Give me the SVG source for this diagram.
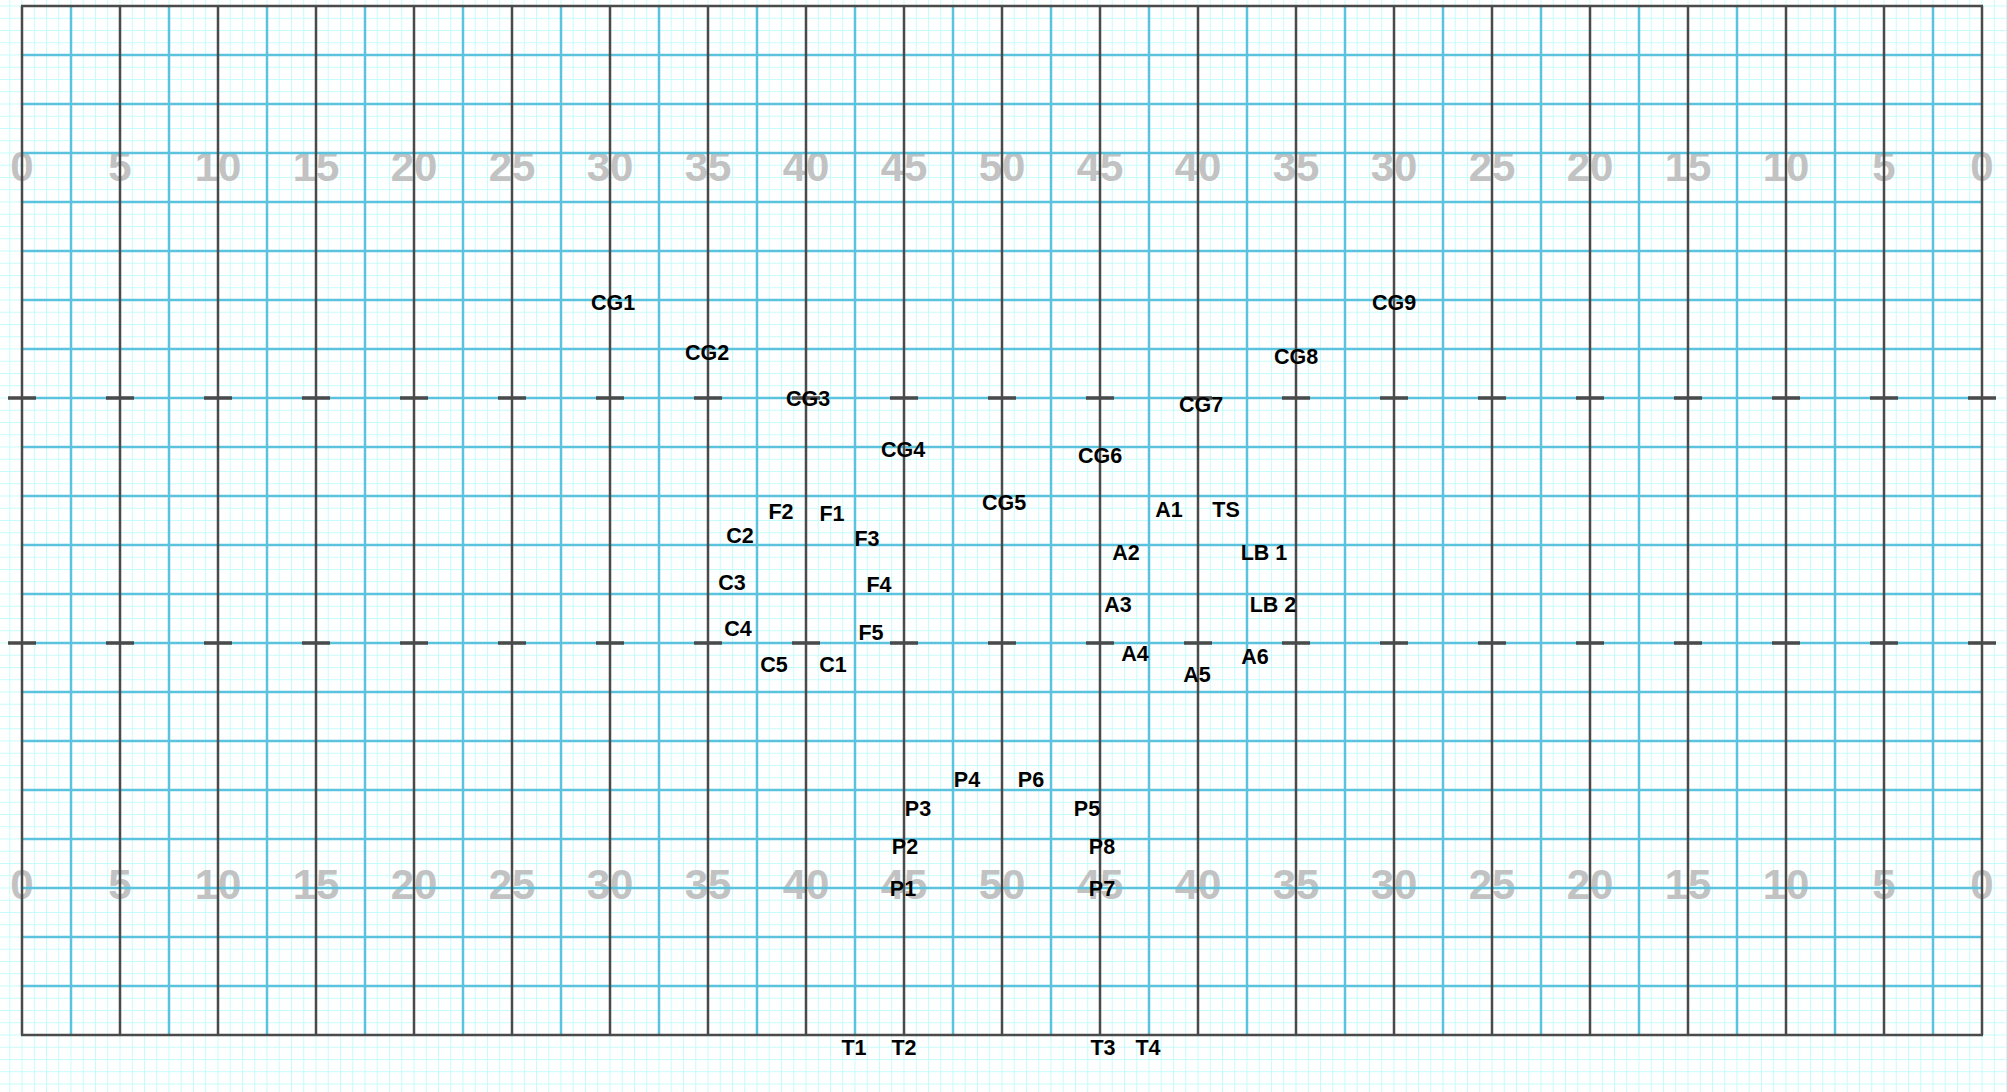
<svg xmlns="http://www.w3.org/2000/svg" width="2007" height="1092" viewBox="0 0 2007 1092">
<style>
.num{font-family:"Liberation Sans",Arial,sans-serif;font-weight:bold;font-size:42px;fill:#c2c2c2;text-anchor:middle}
.lbl{font-family:"Liberation Sans",Arial,sans-serif;font-weight:bold;font-size:21.5px;fill:#000;text-anchor:middle}
.blue{stroke:#5bc3dd;stroke-width:2.5;fill:none}
.dark{stroke:#4a4a4a;stroke-width:2.5;fill:none}
.hash{stroke:#4a4a4a;stroke-width:3.5;fill:none}
</style>
<defs>
<pattern id="minor" patternUnits="userSpaceOnUse" x="21.5" y="5.5" width="12.25" height="12.25">
<rect x="0" y="0" width="1" height="12.25" fill="#c6fbfb"/>
<rect x="0" y="0" width="12.25" height="1" fill="#c6fbfb"/>
</pattern>
</defs>
<rect width="2007" height="1092" fill="#ffffff"/>
<rect width="2007" height="1092" fill="url(#minor)"/>
<g id="yard-numbers-top">
<text class="num" x="22" y="181">0</text><text class="num" x="120" y="181">5</text><text class="num" x="218" y="181">10</text><text class="num" x="316" y="181">15</text><text class="num" x="414" y="181">20</text><text class="num" x="512" y="181">25</text><text class="num" x="610" y="181">30</text><text class="num" x="708" y="181">35</text><text class="num" x="806" y="181">40</text><text class="num" x="904" y="181">45</text><text class="num" x="1002" y="181">50</text><text class="num" x="1100" y="181">45</text><text class="num" x="1198" y="181">40</text><text class="num" x="1296" y="181">35</text><text class="num" x="1394" y="181">30</text><text class="num" x="1492" y="181">25</text><text class="num" x="1590" y="181">20</text><text class="num" x="1688" y="181">15</text><text class="num" x="1786" y="181">10</text><text class="num" x="1884" y="181">5</text><text class="num" x="1982" y="181">0</text>
</g>
<g id="yard-numbers-bottom">
<text class="num" x="22" y="899">0</text><text class="num" x="120" y="899">5</text><text class="num" x="218" y="899">10</text><text class="num" x="316" y="899">15</text><text class="num" x="414" y="899">20</text><text class="num" x="512" y="899">25</text><text class="num" x="610" y="899">30</text><text class="num" x="708" y="899">35</text><text class="num" x="806" y="899">40</text><text class="num" x="904" y="899">45</text><text class="num" x="1002" y="899">50</text><text class="num" x="1100" y="899">45</text><text class="num" x="1198" y="899">40</text><text class="num" x="1296" y="899">35</text><text class="num" x="1394" y="899">30</text><text class="num" x="1492" y="899">25</text><text class="num" x="1590" y="899">20</text><text class="num" x="1688" y="899">15</text><text class="num" x="1786" y="899">10</text><text class="num" x="1884" y="899">5</text><text class="num" x="1982" y="899">0</text>
</g>
<g id="grid">
<path class="blue" d="M22 55H1982M22 104H1982M22 153H1982M22 202H1982M22 251H1982M22 300H1982M22 349H1982M22 398H1982M22 447H1982M22 496H1982M22 545H1982M22 594H1982M22 643H1982M22 692H1982M22 741H1982M22 790H1982M22 839H1982M22 888H1982M22 937H1982M22 986H1982"/>
<path class="blue" d="M71 6V1035M169 6V1035M267 6V1035M365 6V1035M463 6V1035M561 6V1035M659 6V1035M757 6V1035M855 6V1035M953 6V1035M1051 6V1035M1149 6V1035M1247 6V1035M1345 6V1035M1443 6V1035M1541 6V1035M1639 6V1035M1737 6V1035M1835 6V1035M1933 6V1035"/>
<path class="dark" d="M22 6V1035M120 6V1035M218 6V1035M316 6V1035M414 6V1035M512 6V1035M610 6V1035M708 6V1035M806 6V1035M904 6V1035M1002 6V1035M1100 6V1035M1198 6V1035M1296 6V1035M1394 6V1035M1492 6V1035M1590 6V1035M1688 6V1035M1786 6V1035M1884 6V1035M1982 6V1035"/>
<path class="dark" d="M21 6H1983M21 1035H1983"/>
<path class="hash" d="M8 398H36M106 398H134M204 398H232M302 398H330M400 398H428M498 398H526M596 398H624M694 398H722M792 398H820M890 398H918M988 398H1016M1086 398H1114M1184 398H1212M1282 398H1310M1380 398H1408M1478 398H1506M1576 398H1604M1674 398H1702M1772 398H1800M1870 398H1898M1968 398H1996"/>
<path class="hash" d="M8 643H36M106 643H134M204 643H232M302 643H330M400 643H428M498 643H526M596 643H624M694 643H722M792 643H820M890 643H918M988 643H1016M1086 643H1114M1184 643H1212M1282 643H1310M1380 643H1408M1478 643H1506M1576 643H1604M1674 643H1702M1772 643H1800M1870 643H1898M1968 643H1996"/>
</g>
<g id="CG1"><text class="lbl" x="613" y="310">CG1</text></g>
<g id="CG2"><text class="lbl" x="707" y="360">CG2</text></g>
<g id="CG3"><text class="lbl" x="808" y="406">CG3</text></g>
<g id="CG4"><text class="lbl" x="903" y="457">CG4</text></g>
<g id="CG5"><text class="lbl" x="1004" y="510">CG5</text></g>
<g id="CG6"><text class="lbl" x="1100" y="463">CG6</text></g>
<g id="CG7"><text class="lbl" x="1201" y="412">CG7</text></g>
<g id="CG8"><text class="lbl" x="1296" y="364">CG8</text></g>
<g id="CG9"><text class="lbl" x="1394" y="310">CG9</text></g>
<g id="F1"><text class="lbl" x="832" y="521">F1</text></g>
<g id="F2"><text class="lbl" x="781" y="519">F2</text></g>
<g id="F3"><text class="lbl" x="867" y="546">F3</text></g>
<g id="F4"><text class="lbl" x="879" y="592">F4</text></g>
<g id="F5"><text class="lbl" x="871" y="640">F5</text></g>
<g id="C1"><text class="lbl" x="833" y="672">C1</text></g>
<g id="C2"><text class="lbl" x="740" y="543">C2</text></g>
<g id="C3"><text class="lbl" x="732" y="590">C3</text></g>
<g id="C4"><text class="lbl" x="738" y="636">C4</text></g>
<g id="C5"><text class="lbl" x="774" y="672">C5</text></g>
<g id="A1"><text class="lbl" x="1169" y="517">A1</text></g>
<g id="TS"><text class="lbl" x="1226" y="517">TS</text></g>
<g id="A2"><text class="lbl" x="1126" y="560">A2</text></g>
<g id="LB1"><text class="lbl" x="1264" y="560">LB 1</text></g>
<g id="A3"><text class="lbl" x="1118" y="612">A3</text></g>
<g id="LB2"><text class="lbl" x="1273" y="612">LB 2</text></g>
<g id="A4"><text class="lbl" x="1135" y="661">A4</text></g>
<g id="A5"><text class="lbl" x="1197" y="682">A5</text></g>
<g id="A6"><text class="lbl" x="1255" y="664">A6</text></g>
<g id="P1"><text class="lbl" x="903" y="896">P1</text></g>
<g id="P2"><text class="lbl" x="905" y="854">P2</text></g>
<g id="P3"><text class="lbl" x="918" y="816">P3</text></g>
<g id="P4"><text class="lbl" x="967" y="787">P4</text></g>
<g id="P5"><text class="lbl" x="1087" y="816">P5</text></g>
<g id="P6"><text class="lbl" x="1031" y="787">P6</text></g>
<g id="P7"><text class="lbl" x="1102" y="896">P7</text></g>
<g id="P8"><text class="lbl" x="1102" y="854">P8</text></g>
<g id="T1"><text class="lbl" x="854" y="1055">T1</text></g>
<g id="T2"><text class="lbl" x="904" y="1055">T2</text></g>
<g id="T3"><text class="lbl" x="1103" y="1055">T3</text></g>
<g id="T4"><text class="lbl" x="1148" y="1055">T4</text></g>
</svg>
